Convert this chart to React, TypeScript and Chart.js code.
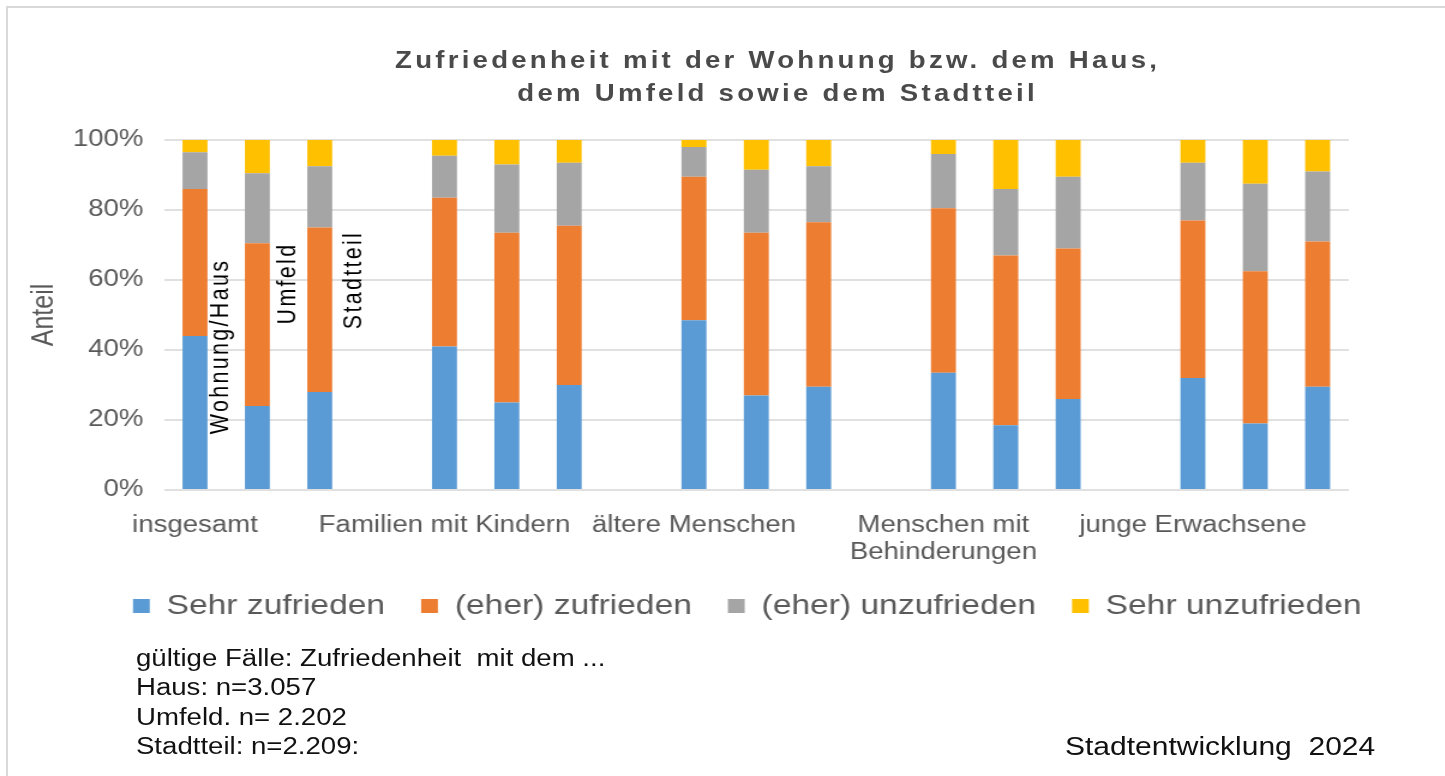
import React, { useEffect, useRef } from 'react';
import { Chart, registerables } from 'chart.js';

Chart.register(...registerables);

// ---------- data ----------
const titleLines = ['Zufriedenheit mit der Wohnung bzw. dem Haus,', 'dem Umfeld sowie dem Stadtteil'];
const groups: (string | string[])[] = [
  'insgesamt',
  'Familien mit Kindern',
  'ältere Menschen',
  ['Menschen mit', 'Behinderungen'],
  'junge Erwachsene',
];
const subjects = ['Wohnung/Haus', 'Umfeld', 'Stadtteil'];
const seriesNames = ['Sehr zufrieden', '(eher) zufrieden', '(eher) unzufrieden', 'Sehr unzufrieden'];
const seriesColors = ['#5B9BD5', '#ED7D31', '#A5A5A5', '#FFC000'];

// values per bar (group order, subjects Wohnung/Haus, Umfeld, Stadtteil), in %
const sehrZufrieden = [44, 24, 28, 41, 25, 30, 48.5, 27, 29.5, 33.5, 18.5, 26, 32, 19, 29.5];
const eherZufrieden = [42, 46.5, 47, 42.5, 48.5, 45.5, 41, 46.5, 47, 47, 48.5, 43, 45, 43.5, 41.5];
const eherUnzufrieden = [10.5, 20, 17.5, 12, 19.5, 18, 8.5, 18, 16, 15.5, 19, 20.5, 16.5, 25, 20];
const sehrUnzufrieden = [3.5, 9.5, 7.5, 4.5, 7, 6.5, 2, 8.5, 7.5, 4, 14, 10.5, 6.5, 12.5, 9];

const yTickStep = 20;
const yAxisTitle = 'Anteil';
const footnotes = [
  'gültige Fälle: Zufriedenheit  mit dem ...',
  'Haus: n=3.057',
  'Umfeld. n= 2.202',
  'Stadtteil: n=2.209:',
];
const credit = 'Stadtentwicklung  2024';

// ---------- build category table (with empty gap slots between groups) ----------
const categories: (string | string[])[] = [];
groups.forEach((g, gi) => {
  subjects.forEach((_, si) => categories.push(si === 0 ? g : ''));
  if (gi < groups.length - 1) categories.push('');
});
const expand = (vals: number[]) => {
  const out: (number | null)[] = [];
  groups.forEach((_, gi) => {
    subjects.forEach((__, si) => out.push(vals[gi * subjects.length + si]));
    if (gi < groups.length - 1) out.push(null);
  });
  return out;
};
const seriesValues = [sehrZufrieden, eherZufrieden, eherUnzufrieden, sehrUnzufrieden];

const FONT = '"Liberation Sans", Arial, Helvetica, sans-serif';
const STRETCH = 1.2;
const LOCAL_W = 1204;
const LOCAL_H = 776;

const subjectLabelPlugin = {
  id: 'subjectLabels',
  afterDatasetsDraw(chart: any, _args: any, opts: any) {
    const meta = chart.getDatasetMeta(0);
    const yScale = chart.scales.y;
    const ctx = chart.ctx as CanvasRenderingContext2D;
    ctx.save();
    ctx.font = `${opts.size}px ${FONT}`;
    (ctx as any).letterSpacing = opts.spacing + 'px';
    ctx.fillStyle = '#000';
    ctx.textAlign = 'center';
    ctx.textBaseline = 'middle';
    subjects.forEach((s, i) => {
      const bar = meta.data[i];
      if (!bar) return;
      const x = bar.x + opts.dx[i];
      const y = yScale.getPixelForValue(opts.yVal[i]);
      ctx.save();
      ctx.translate(x, y);
      ctx.rotate(-Math.PI / 2);
      ctx.fillText(s, 0, 0);
      ctx.restore();
    });
    ctx.restore();
  },
};

// let axis tick labels overflow their (narrow) scale boxes instead of being clipped
const noLabelClipPlugin = {
  id: 'noLabelClip',
  afterLayout(chart: any) {
    ['x', 'y'].forEach((id) => {
      const s = chart.scales[id];
      if (s) s._computeLabelArea = () => undefined;
    });
  },
};

export default function App() {
  const ref = useRef<HTMLCanvasElement>(null);

  useEffect(() => {
    Chart.defaults.font.family = FONT;
    const chart = new Chart(ref.current as HTMLCanvasElement, {
      type: 'bar',
      data: {
        labels: categories,
        datasets: seriesNames.map((name, i) => ({
          label: name,
          data: expand(seriesValues[i]),
          backgroundColor: seriesColors[i],
          borderWidth: 0,
          barPercentage: 0.4,
          categoryPercentage: 1,
        })),
      },
      options: {
        responsive: false,
        animation: false,
        devicePixelRatio: 1,
        layout: { padding: { left: 80.8, right: 0, top: 140, bottom: 146 } },
        plugins: {
          title: { display: false },
          tooltip: { enabled: false },
          legend: {
            position: 'bottom',
            align: 'start',
            labels: {
              boxWidth: 14,
              boxHeight: 14,
              padding: 30,
              color: '#595959',
              font: { size: 28 },
            },
          },
          subjectLabels: { size: 21.5, spacing: 2.3, dx: [21.7, 25.5, 28.5], yVal: [41, 59, 60] },
        } as any,
        scales: {
          x: {
            stacked: true,
            grid: { display: false, drawTicks: false },
            border: { display: false },
            ticks: {
              autoSkip: false,
              maxRotation: 0,
              minRotation: 0,
              padding: 21.6,
              color: '#595959',
              font: { size: 23 },
            },
            afterFit: (s: any) => {
              s.height = 72;
            },
          },
          y: {
            stacked: true,
            min: 0,
            max: 100,
            grid: { color: '#e0e0e0', lineWidth: 2, drawTicks: false },
            border: { display: false },
            ticks: {
              stepSize: yTickStep,
              padding: 17,
              color: '#595959',
              font: { size: 23 },
              callback: (v: any) => v + '%',
            },
            title: {
              display: true,
              text: yAxisTitle,
              color: '#595959',
              font: { size: 25 },
              padding: { top: -58.3, bottom: 0 },
            },
            afterFit: (s: any) => {
              s.width = 55.7;
            },
          },
          yRight: {
            position: 'right',
            display: true,
            grid: { display: false, drawTicks: false },
            border: { display: false },
            ticks: { display: false },
            afterFit: (s: any) => {
              s.width = 80;
            },
          },
        } as any,
      },
      plugins: [subjectLabelPlugin as any, noLabelClipPlugin as any],
    });
    return () => {
      chart.destroy();
    };
  }, []);

  return (
    <div
      style={{
        position: 'fixed',
        left: 0,
        top: 0,
        width: 1445,
        height: 776,
        overflow: 'hidden',
        background: '#fff',
      }}
    >
      <div
        style={{
          position: 'absolute',
          left: 6,
          top: 6,
          width: 1600,
          height: 900,
          borderTop: '2px solid #d9d9d9',
          borderLeft: '2px solid #d9d9d9',
        }}
      />
      <div
        style={{
          position: 'absolute',
          left: 0,
          top: 0,
          width: LOCAL_W,
          height: LOCAL_H,
          transform: `scaleX(${STRETCH})`,
          transformOrigin: '0 0',
        }}
      >
        <canvas
          ref={ref}
          width={LOCAL_W}
          height={LOCAL_H}
          style={{ position: 'absolute', left: 0, top: 0, display: 'block' }}
        />
        <div
          style={{
            position: 'absolute',
            left: 0,
            top: 43.5,
            width: 1296,
            textAlign: 'center',
            fontFamily: FONT,
            fontWeight: 'bold',
            fontSize: 23,
            lineHeight: '33px',
            letterSpacing: '2.7px',
            color: '#4a4a4a',
            whiteSpace: 'pre',
          }}
        >
          {titleLines.map((t, i) => (
            <div key={i}>{t}</div>
          ))}
        </div>
        <div
          style={{
            position: 'absolute',
            left: 113.3,
            top: 643.5,
            fontFamily: FONT,
            fontSize: 23,
            lineHeight: '29.5px',
            color: '#111',
            whiteSpace: 'pre',
          }}
        >
          {footnotes.map((t, i) => (
            <div key={i}>{t}</div>
          ))}
        </div>
        <div
          style={{
            position: 'absolute',
            left: 887.5,
            top: 732,
            fontFamily: FONT,
            fontSize: 25,
            lineHeight: '29.5px',
            color: '#111',
            whiteSpace: 'pre',
          }}
        >
          {credit}
        </div>
      </div>
    </div>
  );
}
